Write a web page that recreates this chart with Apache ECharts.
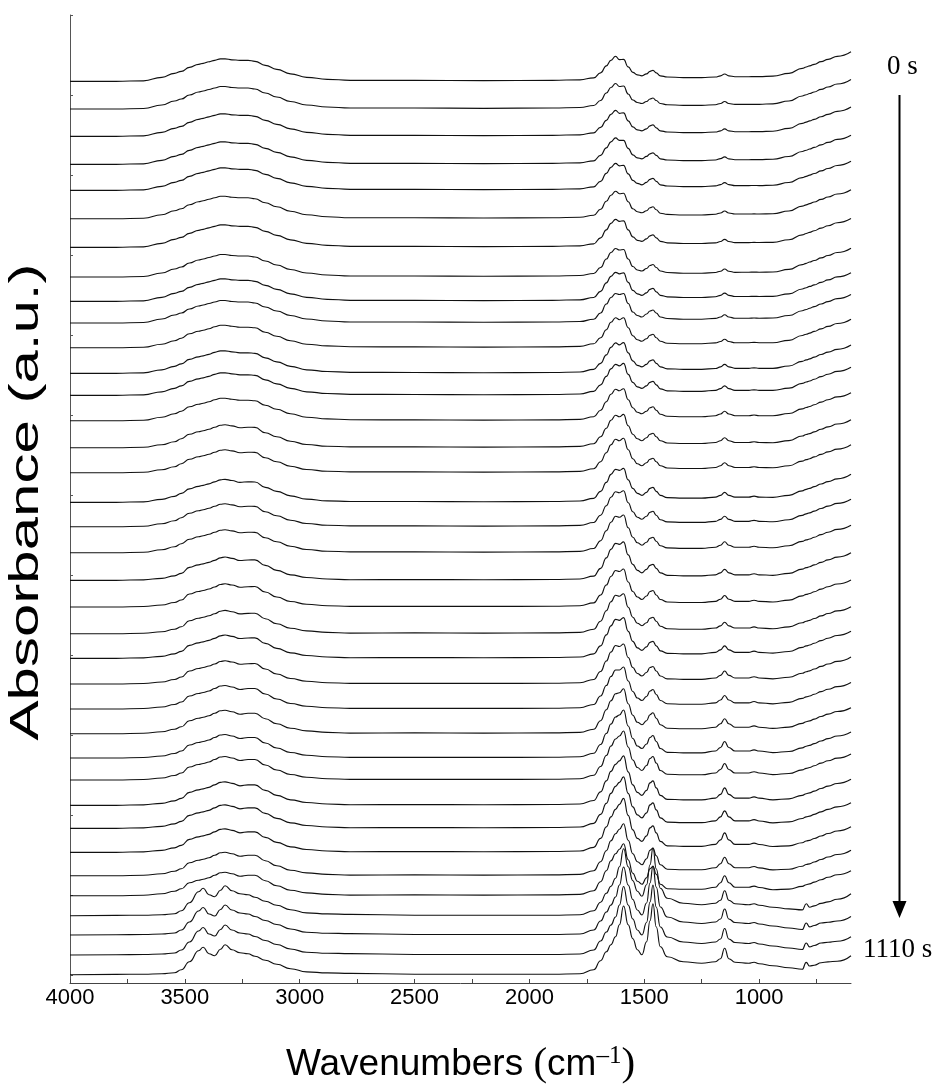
<!DOCTYPE html>
<html><head><meta charset="utf-8">
<script src="https://cdn.jsdelivr.net/npm/echarts@6/dist/echarts.min.js"></script>
<style>html,body{margin:0;padding:0;background:#fff}#c{width:939px;height:1086px}</style>
</head><body><div id="c"></div>
<script>
// wavenumber grid (cm-1)
const wavenumbers = [4000,3800,3680,3600,3545,3515,3480,3440,3420,3395,3370,3345,3325,3295,3260,3225,3195,3150,3100,3040,2970,2880,2780,2500,2200,1900,1780,1720,1690,1665,1645,1625,1608,1590,1570,1550,1530,1510,1490,1475,1462,1448,1430,1400,1330,1250,1190,1168,1150,1132,1105,1045,1022,1000,940,870,812,795,780,760,730,700,660,600];
// stacking offsets (a.u.) of each spectrum, 0 s at top to 1110 s at bottom
const baselines = [901.7,874,846.7,818.7,792.7,764.3,735.7,706,681.7,660,635.3,609.7,587.7,562.3,535.3,510.3,480.7,456.3,430.3,402.7,376,349.3,324.7,299,274,249.3,225,203,177.7,154.7,130.7,107.3,87.3,67.3,48,28,8.3];
// O-H / N-H stretching region (4000-2780)
const ohEarly = [0,0,0.5,4,8,10,14,17,18,19.5,21,22.5,22.5,21.5,21,21,20,16,12,7.5,4,2,1];
const ohMid1  = [0,0,0.5,3.5,7,9.5,14,16.5,17.5,19,21,22.5,22.5,21.5,20.5,20.5,20,15.5,11.5,7,3.5,1.8,1];
const ohMid2  = [0,0,0.5,3,6,9,13.5,16,17,18.5,20.5,22.5,23,21.8,20,20.5,20.3,15,11,6.5,3.2,1.5,0.8];
const ohMid3  = [0,0,0.5,2,4.5,7,13,15.5,16.5,18,20,22.5,23.3,22,19.8,20.3,20.5,15,10,5.5,2.8,1.3,0.6];
const ohLate  = [0,0,0.5,2,4.5,7,13,15.5,16.5,18,20.5,23,23.5,22,19.5,20.5,20.5,15,10,5.5,2.8,1.3,0.6];
const ohAmine = [0,0.3,0.5,1,2,5,13,24,27.5,21,19,25.5,30,25,22,21,18.5,14.5,10.5,6,2.8,1.8,1.4];
// flat region 2500-1780
const flatEarly = [1,0.7,1,1.5];
const flatMid = [0.8,0.6,0.8,1.3];
const flatLate = [0.5,0.5,0.5,1];
// fingerprint region 1720-600, one list per spectrum
const fp01 = [3.5,8.5,15.5,21,25,21.7,22,14.5,9,6.5,5.5,7.5,10,11,8.5,5.5,4.3,3.7,3.7,4.3,5.5,7.3,5.5,4.6, 4.6,4.7,4.7,5.2,8,13,14.3,15.5,17,19.7,22,25,29.5];
const fp02 = [3.5,8.5,16,21.5,25.5,22.5,23,15,9,6.5,5.5,7.5,10,11,8.5,5.5,4.3,3.7,3.7,4.3,5.5,7.5,5.5,4.6, 4.6,4.7,4.7,5.2,8,13,14.3,15.5,17,19.7,22,25,29.5];
const fp03 = [3.5,9,16,22,26,23,23.5,15.5,9.5,6.5,5.5,7.5,10.5,11.5,8.5,5.5,4.3,3.7,3.7,4.3,5.5,7.5,5.5,4.6, 4.6,4.7,4.7,5.1,7.9,12.9,14.2,15.4,17,19.6,22,25,29.3];
const fp04 = [3.5,9,16.5,22.5,26.5,24,24,16,9.5,6.5,5.5,8,10.5,11.5,9,5.5,4.3,3.7,3.7,4.3,5.7,7.5,5.5,4.6, 4.6,4.7,4.7,5.1,7.8,12.8,14.1,15.3,16.9,19.5,21.9,24.9,29];
const fp05 = [3.5,9,17,23,27,24.5,25,16.5,10,7,5.5,8,11,12,9,5.5,4.3,3.7,3.7,4.5,5.7,7.7,5.7,4.7, 4.7,4.8,4.7,5.1,7.8,12.7,14,15.2,16.8,19.4,21.8,24.8,29];
const fp06 = [3.5,9.5,17.5,23.5,27.5,25,25.5,17,10,7,6,8,11,12,9,5.5,4.3,3.7,3.7,4.5,5.7,7.7,5.7,4.7, 4.7,4.8,4.7,5,7.7,12.6,13.9,15.1,16.7,19.3,21.7,24.7,29];
const fp07 = [3.5,9.5,17.5,24,28,26,26.5,17.5,10.5,7,6,8.5,11.5,12.5,9.5,6,4.5,3.8,3.8,4.5,5.8,8,5.8,4.7, 4.7,4.9,4.8,5,7.6,12.5,13.8,15,16.6,19.2,21.6,24.6,28.8];
const fp08 = [3.5,9.5,18,24.5,28.5,27,27.5,18,10.5,7,6,8.5,11.5,12.5,9.5,6,4.5,3.8,3.8,4.5,5.8,8,5.8,4.7, 4.8,4.9,4.8,5,7.6,12.4,13.7,15,16.5,19.1,21.5,24.5,28.8];
const fp09 = [3.8,10,18.5,25,29,27.5,28.5,19,11,7.5,6,8.5,12,13,9.5,6,4.5,3.8,3.8,4.6,6,8.2,6,4.8, 4.8,5,4.8,5,7.5,12.3,13.6,14.9,16.4,19,21.4,24.4,28.5];
const fp10 = [3.8,10,19,25.5,29.5,28.5,29.5,19.5,11,7.5,6,9,12,13,10,6,4.5,3.8,3.8,4.6,6,8.3,6,4.8, 4.8,5,4.8,5,7.5,12.3,13.5,14.8,16.4,19,21.4,24.4,28.5];
const fp11 = [4,10,18,25.5,30,28,30,20,12,8,6.5,9,12.5,13.5,10,6.5,4.5,4,4,4.8,6.2,8.5,6.2,5, 5,5.3,5,5,7.4,12.2,13.5,14.6,16.3,18.9,21.3,24.2,28.5];
const fp12 = [4,10,18.5,26,30.5,28.5,30.7,20.5,12.5,8,6.5,9,12.5,13.5,10,6.5,4.5,4,4,4.8,6.5,9,6.5,5, 5,5.5,5,5,7.3,12,13.4,14.4,16.2,18.8,21.2,24,28.3];
const fp13 = [4,10.5,19,26.5,31,29.5,32,21,13,8.5,7,9.5,13,14,10.5,6.5,4.5,4,4,5,6.7,9.5,6.7,5, 5,5.5,5,5,7.2,12,13.3,14.3,16.1,18.7,21.1,23.9,28];
const fp14 = [4,10.5,19,26.5,31.5,30,32,21,13,8.5,7,9.5,13,14,10.5,6.5,4.5,4,4,5,6.7,9.5,6.7,5, 5,5.7,5,5,7.2,11.8,13.2,14.2,16,18.6,21,23.8,28];
const fp15 = [4,11,19.5,27.5,32.5,31,33.3,22,13.5,9,7,10,13.5,14.5,11,7,4.7,4.2,4.2,5.2,7,10,7,5.2, 5.2,6,5.2,5,7.1,11.7,13.2,14.1,15.9,18.5,20.9,23.7,28];
const fp16 = [4,11,20,28,33.5,32,34.5,23,14,9,7,10,13.5,14.5,11,7,4.7,4.2,4.2,5.2,7,10,7,5.2, 5.2,6,5.2,5,7,11.6,13.1,14,15.8,18.4,20.8,23.6,28];
const fp17 = [4,11,20,28,33,32,34,22.5,14,9,7,10,14,15,11,7,4.7,4.2,4.2,5.2,7,10,7,5.2, 5.2,6.2,5.2,5,7,11.5,13,13.9,15.7,18.3,20.7,23.5,28];
const fp18 = [4.2,11.5,21,29.5,35,34,36,24,15,9.5,7.5,10.5,14.5,15.5,11.5,7,4.8,4.3,4.3,5.4,7.3,10.5,7.3,5.4, 5.4,6.4,5.4,5,7,11.4,12.9,13.8,15.6,18.2,20.6,23.4,27.5];
const fp19 = [4.2,12,22,30.5,36.5,35.5,37.7,25,15.5,10,7.5,10.5,14.5,15.5,11.5,7,4.8,4.3,4.3,5.5,7.5,11,7.5,5.5, 5.5,6.5,5.5,5,7,11.3,12.8,13.7,15.5,18.1,20.5,23.3,27.5];
const fp20 = [4.2,12,22.5,31,37,36,38.5,25.5,16,10,7.5,11,15,16,12,7.5,5,4.5,4.5,5.5,7.5,11,7.5,5.5, 5.5,6.6,5.5,5,7,11.2,12.7,13.6,15.4,18,20.4,23.2,27.5];
const fp21 = [4.2,12,22,30.5,36.5,35.5,38,25,15.5,10,7.5,11,15.5,16.5,12,7.5,5,4.5,4.5,5.7,7.8,11.5,7.8,5.7, 5.7,6.8,5.7,5,6.9,11.1,12.6,13.5,15.3,17.9,20.3,23,27];
const fp22 = [4.5,12.5,23,32,38.5,37.5,40,26.5,16.5,10.5,8,11,15.5,16.5,12.5,7.5,5,4.5,4.5,5.7,7.8,11.5,7.8,5.7, 5.7,6.9,5.7,5,6.9,11,12.5,13.4,15.2,17.8,20.2,22.9,27];
const fp23 = [4.5,12.5,23.5,32.5,39,38,40.7,27,17,10.5,8,11.5,16,17,12.5,7.5,5,4.5,4.5,6,8.5,12.5,8.5,6, 6,7.2,6,5.2,6.8,10.9,12.4,13.3,15.1,17.7,20.1,22.8,27];
const fp24 = [4.5,12.5,23,32,38.5,37.5,40,26.5,16.5,10.5,8,11.5,16.5,17.5,13,8,5.2,4.7,4.7,6,8.7,13,8.7,6, 6,7.3,6,5.2,6.8,10.8,12.3,13.2,15,17.6,20,22.6,27];
const fp25 = [4.5,13,23.5,32.5,39,39,42,28,17.5,11,8.5,12.5,18,19.5,14.5,8.5,5.3,4.8,4.8,6.2,9,13.5,9,6.2, 6.2,7.5,6.2,5.2,6.7,10.6,12.2,13,14.8,17.4,19.8,22.4,26.5];
const fp26 = [4.5,13,24,33,40,41,45,30,18.5,11.5,9,13,19,21,15.5,9,5.5,5,5,6.5,10,15,10,6.5, 6.5,7.8,6.5,5.3,6.6,10.4,12,12.8,14.6,17.2,19.6,22.2,26];
const fp27 = [4.8,13.5,24.5,34,41,43,48,32,19.5,12,9.5,14,20.5,22.5,16.5,9.5,5.7,5.2,5.2,7,10.5,16.5,10.5,7, 7,8.2,7,5.4,6.5,10.2,11.8,12.6,14.4,17,19.4,22,26];
const fp28 = [4.8,13.5,24.5,34,41,44,49,33,20,12.5,9.5,14.5,21.5,23.5,17,9.5,5.8,5.3,5.3,7,10.5,16.5,10.5,7, 7,8.3,7,5.4,6.5,10.1,11.7,12.5,14.3,16.9,19.3,21.9,26];
const fp29 = [4.8,13.5,24.5,34,41,44.5,49.5,33.5,20.5,13,10,15,22.5,24.5,17.5,10,6,5.5,5.5,7.2,11,17.5,11,7.2, 7.2,8.5,7.2,5.5,6.5,10,11.6,12.4,14.2,16.8,19.2,21.8,26];
const fp30 = [5,14,25,35,42,46,51.5,35,21.5,13.5,10.5,15.5,23.5,25.5,18.5,10.5,6.2,5.7,5.7,7.5,11.5,17.5,11.5,7.5, 7.5,8.7,7.3,5.5,6.5,9.8,11.5,12.2,14,16.5,19,21.5,25.5];
const fp31 = [5,14,25.5,35.5,43,48,54,37,22.5,14,11,16.5,24.5,26.5,19.5,11,6.5,6,6,8,12.5,19.5,12.5,8, 8,9.2,7.8,5.8,6.5,9.6,11.3,12,13.8,16.3,18.8,21.3,25.5];
const fp32 = [5,14,25,35,42,46.5,52,35.5,22,14,11,17,25.5,27.5,20,11,6.5,6,6,8,12,18.5,12,8, 8,9.2,7.8,5.8,6.5,9.5,11.2,11.9,13.7,16.2,18.7,21.2,25.5];
const fp33 = [5,14,25,35,42,46.5,52,36,22.5,14.5,11.5,18,27,29.5,21.5,11.5,7,6.5,6.5,8.5,13,20,13,8.5, 8.5,9.6,8.2,6,6.6,9.4,11,11.8,13.6,16,18.5,21,25];
const fp34 = [5,13.5,22.5,29.5,37.5,49,67,49,35,24.5,19.5,31,51,68,47,27.5,17.5,12.5,11,12.5,15.5,25,15.5,12, 11,12,10.5,8.5,6.8,5.8,12,8.5,9.8,12.3,13.8,16.5,22];
const fp35 = [5,14,23,30,38,50,68,50,35.5,25,20,32,52,69,48,28,18,13,11.5,13,16,26,16,12.5, 11.5,12.5,11,9,7,5.5,12,8.2,9.5,12,12.8,14,18.5];
const fp36 = [5,14,23,30,38,50,68.5,50,36,25,20,32.5,53,70,48,28,18,13,11.5,13,16,26.5,16,12.5, 11.5,12.5,11,9,7,5.5,12,8.2,9.5,12,12.8,13.8,18.3];
const fp37 = [5,14,23,30,38,50,68.7,50,36,25,20,33,54,71,48,28,18,13,11.5,13,16,26.5,16,12.5, 11.5,12.5,11,9,7,5.5,12.4,8.7,9.5,12,12.8,13.5,19];
// axis ticks and labels
const xTickValues = [750,1000,1250,1500,1750,2000,2250,2500,2750,3000,3250,3500,3750,4000];
const xLabelValues = [1000,1500,2000,2500,3000,3500,4000];
const yTickValues = [8,88,168,248,328,408,488,568,648,728,808,888,968];
const timeLabels = ['0 s','1110 s'];
const yTitle = 'Absorbance (a.u.)';

const spectra = [
  [ohEarly,flatEarly,fp01],[ohEarly,flatEarly,fp02],[ohEarly,flatEarly,fp03],[ohEarly,flatEarly,fp04],
  [ohEarly,flatEarly,fp05],[ohEarly,flatEarly,fp06],[ohEarly,flatEarly,fp07],[ohEarly,flatEarly,fp08],
  [ohEarly,flatEarly,fp09],[ohEarly,flatEarly,fp10],
  [ohMid1,flatMid,fp11],[ohMid1,flatMid,fp12],[ohMid1,flatMid,fp13],[ohMid1,flatMid,fp14],
  [ohMid2,flatMid,fp15],[ohMid2,flatMid,fp16],[ohMid2,flatMid,fp17],[ohMid2,flatMid,fp18],[ohMid2,flatMid,fp19],
  [ohMid3,flatMid,fp20],[ohMid3,flatMid,fp21],[ohMid3,flatMid,fp22],[ohMid3,flatMid,fp23],[ohMid3,flatMid,fp24],
  [ohLate,flatMid,fp25],[ohLate,flatMid,fp26],[ohLate,flatMid,fp27],[ohLate,flatMid,fp28],[ohLate,flatMid,fp29],
  [ohLate,flatMid,fp30],[ohLate,flatMid,fp31],[ohLate,flatMid,fp32],[ohLate,flatMid,fp33],
  [ohAmine,flatLate,fp34],[ohAmine,flatLate,fp35],[ohAmine,flatLate,fp36],[ohAmine,flatLate,fp37]
];

const series = spectra.map((parts, k) => {
  const rel = parts[0].concat(parts[1], parts[2]);
  return {
    type: 'line', name: 'spectrum ' + (k + 1),
    data: wavenumbers.map((w, i) => [w, baselines[k] + rel[i]]),
    showSymbol: false, symbol: 'none', smooth: 0.5, smoothMonotone: 'x',
    lineStyle: { color: '#111', width: 1.15 }, silent: true, animation: false, z: 3
  };
});

const chart = echarts.init(document.getElementById('c'), null, { renderer: 'canvas' });
chart.setOption({
  backgroundColor: '#fff',
  animation: false,
  grid: { left: 70, right: 88, top: 15, bottom: 103, containLabel: false, outerBoundsMode: 'none' },
  xAxis: {
    type: 'value', inverse: true, min: 600, max: 4000,
    name: '{a|Wavenumbers }{p|(}{a|cm}{s|\u20131}{p|)}',
    nameLocation: 'middle', nameGap: 61,
    nameTextStyle: {
      rich: {
        a: { fontFamily: '"Liberation Sans", Arial, sans-serif', fontSize: 37, color: '#000' },
        p: { fontFamily: '"Liberation Serif", "Times New Roman", serif', fontSize: 41, color: '#000' },
        s: { fontFamily: '"Liberation Serif", "Times New Roman", serif', fontSize: 25, color: '#000', verticalAlign: 'top' }
      }
    },
    axisLine: { show: true, onZero: false, lineStyle: { color: '#444', width: 1 } },
    axisTick: { show: true, inside: true, length: 4, customValues: xTickValues, lineStyle: { color: '#444' } },
    axisLabel: { show: true, customValues: xLabelValues, margin: 4, fontSize: 22, color: '#000',
      fontFamily: '"Liberation Sans", Arial, sans-serif', formatter: v => String(v) },
    splitLine: { show: false }
  },
  yAxis: {
    type: 'value', min: 0, max: 968,
    axisLine: { show: true, onZero: false, lineStyle: { color: '#555', width: 1 } },
    axisTick: { show: true, inside: true, length: 3, customValues: yTickValues, lineStyle: { color: '#555' } },
    axisLabel: { show: false },
    splitLine: { show: false }
  },
  graphic: [
    { type: 'text', x: 27, y: 502, rotation: Math.PI / 2, scaleX: 1.5, scaleY: 1,
      style: { text: yTitle, font: '40px "Liberation Sans", Arial, sans-serif', fill: '#000', align: 'center', verticalAlign: 'middle' } },
    { type: 'text', x: 887, y: 66.5, style: { text: timeLabels[0], font: '27px "Liberation Serif", "Times New Roman", serif', fill: '#000', verticalAlign: 'middle', align: 'left' } },
    { type: 'text', x: 863, y: 950, style: { text: timeLabels[1], font: '27px "Liberation Serif", "Times New Roman", serif', fill: '#000', verticalAlign: 'middle', align: 'left' } },
    { type: 'line', shape: { x1: 899.5, y1: 95, x2: 899.5, y2: 905 }, style: { stroke: '#000', lineWidth: 2 } },
    { type: 'polygon', shape: { points: [[892.5, 901], [906.5, 901], [899.5, 918]] }, style: { fill: '#000' } }
  ],
  series: series
});
</script></body></html>
